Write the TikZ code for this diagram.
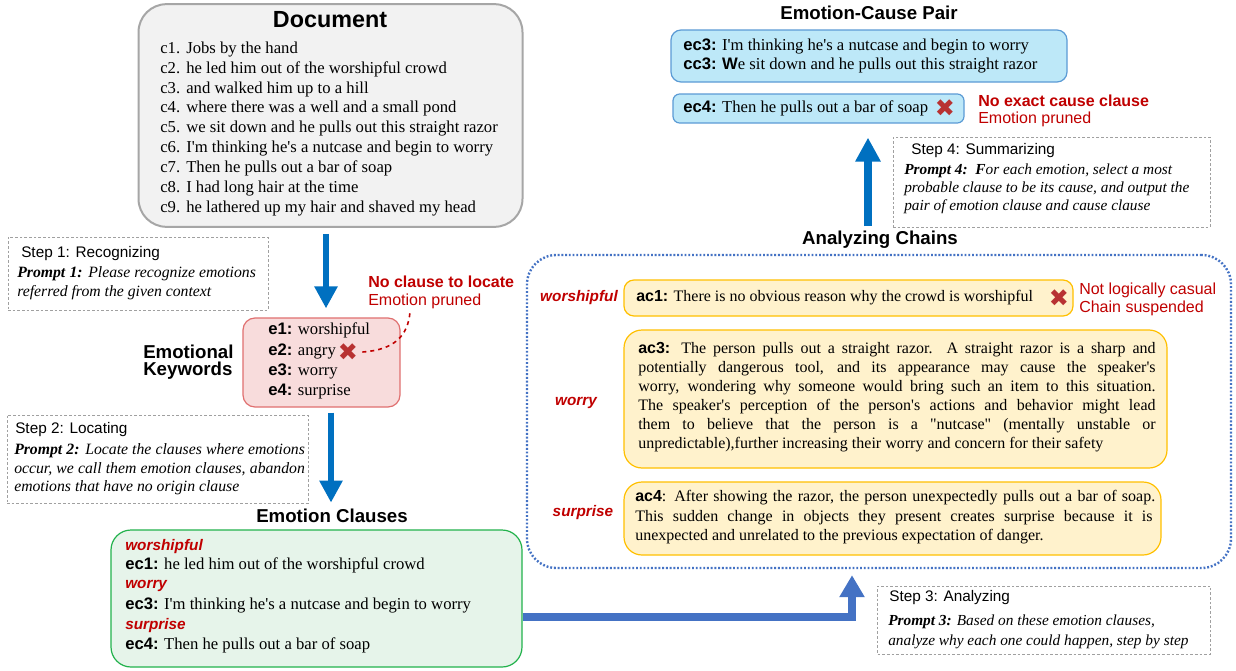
\documentclass[tikz,border=0pt]{standalone}
\usepackage{fontspec}
\setmainfont{Liberation Serif}[Ligatures=TeXOff]
\setsansfont{Liberation Sans}
\newfontfamily\symfont{DejaVu Sans}
\usetikzlibrary{arrows.meta,calc}
\definecolor{docfill}{HTML}{F2F2F2}
\definecolor{docdraw}{HTML}{A6A6A6}
\definecolor{ekfill}{HTML}{F8DCDC}
\definecolor{ekdraw}{HTML}{E07070}
\definecolor{ecfill}{HTML}{E6F4EA}
\definecolor{ecdraw}{HTML}{22B24C}
\definecolor{acfill}{HTML}{FFF2CC}
\definecolor{acdraw}{HTML}{FFC000}
\definecolor{cpfill}{HTML}{BDE8F8}
\definecolor{cpdraw}{HTML}{5B9BD5}
\definecolor{redlbl}{HTML}{C00000}
\definecolor{xred}{HTML}{B83232}
\definecolor{arrblue}{HTML}{0070C0}
\definecolor{elbblue}{HTML}{4472C4}
\definecolor{stepgray}{HTML}{A0A0A0}
\newcommand\lab[1]{{\sffamily\bfseries #1}}
\tikzset{
  box/.style={draw, inner sep=0pt, line width=0.9pt},
  stepbox/.style={draw=stepgray, dash pattern=on 2pt off 1.5pt, line width=0.7pt, inner sep=0pt},
  ser/.style={font=\fontsize{12.5}{15}\selectfont, inner sep=0pt, anchor=west, text height=8.5pt, text depth=2.75pt},
  acser/.style={font=\fontsize{12}{14}\selectfont, inner sep=0pt, anchor=west, text height=8.2pt, text depth=2.6pt},
  head/.style={font=\sffamily\bfseries\fontsize{14}{16}\selectfont, inner sep=0pt},
  steptitle/.style={font=\sffamily\fontsize{11.5}{13}\selectfont, inner sep=0pt, anchor=west},
  prompt/.style={font=\itshape\fontsize{11.8}{14}\selectfont, inner sep=0pt, anchor=west, text height=8pt, text depth=2.6pt},
  emo/.style={font=\sffamily\bfseries\itshape\fontsize{11.5}{13}\selectfont, text=redlbl, inner sep=0pt},
  redb/.style={font=\sffamily\bfseries\fontsize{12}{14}\selectfont, text=redlbl, inner sep=0pt, anchor=west},
  redr/.style={font=\sffamily\fontsize{12}{14}\selectfont, text=redlbl, inner sep=0pt, anchor=west},
  xmark/.style={font=\symfont\fontsize{18}{18}\selectfont, text=xred, inner sep=0pt},
  bluearrow/.style={draw=arrblue, line width=5pt, -{Triangle[width=16.5pt,length=16.5pt]}},
  elbarrow/.style={draw=elbblue, line width=6pt, -{Triangle[width=18pt,length=16.5pt]}},
  reddash/.style={draw=redlbl, line width=1.2pt, dash pattern=on 3pt off 3pt},
}
\begin{document}
\begin{tikzpicture}[x=0.75pt,y=-0.75pt]
\path[use as bounding box, fill=white] (0,0) rectangle (1236,671);

% ---------------- Document
\node[box, fill=docfill, draw=docdraw, line width=1.5pt, rounded corners=21pt, minimum width=288pt, minimum height=167pt] (doc) at (330.5,115.5) {};
\node[head, font=\sffamily\bfseries\fontsize{17.5}{20}\selectfont] (doct) at (330,20) {Document};
\foreach \t [count=\i] in {Jobs by the hand, he led him out of the worshipful crowd, and walked him up to a hill, where there was a well and a small pond, we sit down and he pulls out this straight razor, I'm thinking he's a nutcase and begin to worry, Then he pulls out a bar of soap, I had long hair at the time, he lathered up my hair and shaved my head}
  \node[ser] (d\i) at (160,{29.5+19.9*\i}) {\makebox[19.5pt][l]{c\i.}\t};

% ---------------- Step 1
\node[stepbox, minimum width=195pt, minimum height=54.75pt] (s1) at (138,273.5) {};
\node[steptitle] (s1t) at (21,254) {Step 1: Recognizing};
\node[prompt] (s1a) at (17,274) {\makebox[179pt][s]{\textbf{Prompt 1:} Please recognize emotions}};
\node[prompt] (s1b) at (17,293) {referred from the given context};

% ---------------- Emotional keywords
\node[box, fill=ekfill, draw=ekdraw, rounded corners=9pt, minimum width=117.75pt, minimum height=66.75pt] (ek) at (321.5,362.5) {};
\node[head, anchor=west] (ekl1) at (143,352) {Emotional};
\node[head, anchor=west] (ekl2) at (143,371) {Keywords};
\node[ser] (e1) at (268,331) {\lab{e1:} worshipful};
\node[ser] (e2) at (268,352) {\lab{e2:} angry};
\node[ser] (e3) at (268,372) {\lab{e3:} worry};
\node[ser] (e4) at (268,392) {\lab{e4:} surprise};
\node[xmark] (xang) at (348,352) {✖};
\node[redb] (nc1) at (368,282) {No clause to locate};
\node[redr] (nc2) at (368,301) {Emotion pruned};
\coordinate (cend) at (410,312);
\draw[reddash] ([xshift=3pt]xang.east) .. controls (394,350) and (408,336) .. (cend);

% ---------------- Step 2
\node[stepbox, minimum width=225.75pt, minimum height=66pt] (s2) at (157.5,459) {};
\node[steptitle] (s2t) at (15,430) {Step 2: Locating};
\node[prompt] (s2a) at (14,451) {\makebox[218pt][s]{\textbf{Prompt 2:} Locate the clauses where emotions}};
\node[prompt] (s2b) at (14,470) {\makebox[218pt][s]{occur, we call them emotion clauses, abandon}};
\node[prompt] (s2c) at (14,488) {emotions that have no origin clause};

% ---------------- arrows left column
\draw[bluearrow] ($(doc.south)+(-4.5,6)$) -- ($(ek.north)+(4.5,-9)$);
\draw[bluearrow] ($(ek.south)+(9.5,5)$) -- ($(ek.south)+(9.5,95)$);

% ---------------- Emotion clauses
\node[head] (ect) at (332,516) {Emotion Clauses};
\node[box, fill=ecfill, draw=ecdraw, rounded corners=15pt, minimum width=308.25pt, minimum height=102.75pt] (ec) at (316.5,598.5) {};
\node[emo, anchor=west] (ecl1) at (125,547) {worshipful};
\node[ser] (ecl2) at (125,566) {\lab{ec1:} he led him out of the worshipful crowd};
\node[emo, anchor=west] (ecl3) at (125,586) {worry};
\node[ser] (ecl4) at (125,606) {\lab{ec3:} I'm thinking he's a nutcase and begin to worry};
\node[emo, anchor=west] (ecl5) at (125,626) {surprise};
\node[ser] (ecl6) at (125,646) {\lab{ec4:} Then he pulls out a bar of soap};

% ---------------- Analyzing chains
\node[head] (cht) at (880,240) {Analyzing Chains};
\node[draw=elbblue, line width=1.8pt, dash pattern=on 1.4pt off 1.4pt, rounded corners=22pt, inner sep=0pt, minimum width=528pt, minimum height=234.75pt] (chains) at (879,411.5) {};

\node[emo] (w1) at (579,298) {worshipful};
\node[box, fill=acfill, draw=acdraw, rounded corners=7.5pt, minimum width=336.75pt, minimum height=27pt] (ac1) at (848.5,298) {};
\node[acser] (ac1t) at (636,298) {\lab{ac1:} There is no obvious reason why the crowd is worshipful};
\node[xmark] (x1) at (1059,298) {✖};
\node[redr] (nl1) at (1079,290) {Not logically casual};
\node[redr] (nl2) at (1079,308) {Chain suspended};

\node[emo] (w3) at (576,403) {worry};
\node[box, fill=acfill, draw=acdraw, rounded corners=13.5pt, minimum width=407.25pt, minimum height=103.5pt] (ac3) at (895.5,399) {};
\node[acser] (ac3l1) at (638,350) {\makebox[388pt][s]{\lab{ac3:} The person pulls out a straight razor. A straight razor is a sharp and}};
\node[acser] (ac3l2) at (638,369) {\makebox[388pt][s]{potentially dangerous tool, and its appearance may cause the speaker's}};
\node[acser] (ac3l3) at (638,388) {\makebox[388pt][s]{worry, wondering why someone would bring such an item to this situation.}};
\node[acser] (ac3l4) at (638,407) {\makebox[388pt][s]{The speaker's perception of the person's actions and behavior might lead}};
\node[acser] (ac3l5) at (638,426) {\makebox[388pt][s]{them to believe that the person is a "nutcase" (mentally unstable or}};
\node[acser] (ac3l6) at (638,445) {unpredictable),further increasing their worry and concern for their safety};

\node[emo] (w4) at (583,513) {surprise};
\node[box, fill=acfill, draw=acdraw, rounded corners=13.5pt, minimum width=402.75pt, minimum height=54.75pt] (ac4) at (892.5,518.5) {};
\node[acser] (ac4l1) at (635,498) {\makebox[390pt][s]{\lab{ac4}: After showing the razor, the person unexpectedly pulls out a bar of soap.}};
\node[acser] (ac4l2) at (635,518) {\makebox[388pt][s]{This sudden change in objects they present creates surprise because it is}};
\node[acser] (ac4l3) at (635,537) {unexpected and unrelated to the previous expectation of danger.};

% ---------------- Step 3 and elbow arrow
\node[stepbox, minimum width=249.75pt, minimum height=51pt] (s3) at (1044,620) {};
\node[steptitle] (s3t) at (889,598) {Step 3: Analyzing};
\node[prompt, font=\itshape\fontsize{11.5}{14}\selectfont] (s3a) at (888,622) {\textbf{Prompt 3:} Based on these emotion clauses,};
\node[prompt, font=\itshape\fontsize{11.5}{14}\selectfont] (s3b) at (888,642) {analyze why each one could happen, step by step};
\draw[elbarrow] ($(ec.east)+(0,18.5)$) -| ($(chains.south)+(-27,6)$);

% ---------------- Emotion-cause pair
\node[head] (ecpt) at (869,13) {Emotion-Cause Pair};
\node[box, fill=cpfill, draw=cpdraw, rounded corners=7.5pt, minimum width=297pt, minimum height=39pt] (ecp1) at (869,56) {};
\node[ser] (ecp1a) at (683,47) {\lab{ec3:} I'm thinking he's a nutcase and begin to worry};
\node[ser] (ecp1b) at (683,66) {\lab{cc3:} {\sffamily\bfseries W}e sit down and he pulls out this straight razor};
\node[box, fill=cpfill, draw=cpdraw, rounded corners=5pt, minimum width=218.25pt, minimum height=21.75pt] (ecp2) at (818.5,108.5) {};
\node[ser] (ecp2a) at (683,109) {\lab{ec4:} Then he pulls out a bar of soap};
\node[xmark] (x2) at (945,108) {✖};
\node[redb] (ne1) at (978,101) {No exact cause clause};
\node[redr] (ne2) at (978,119) {Emotion pruned};

% ---------------- Step 4 and arrow
\node[stepbox, minimum width=237.75pt, minimum height=67.5pt] (s4) at (1051.5,182) {};
\node[steptitle] (s4t) at (911,151) {Step 4: Summarizing};
\node[prompt, font=\itshape\fontsize{11.5}{14}\selectfont] (s4a) at (904,171) {\textbf{Prompt 4:\ \ F}or each emotion, select a most};
\node[prompt, font=\itshape\fontsize{11.5}{14}\selectfont] (s4b) at (904,189) {probable clause to be its cause, and output the};
\node[prompt, font=\itshape\fontsize{11.5}{14}\selectfont] (s4c) at (904,207) {pair of emotion clause and cause clause};
\draw[bluearrow, line width=5.5pt, -{Triangle[width=18pt,length=18pt]}] ($(cht.center)+(-12,-14)$) -- ($(ecp2.south)+(49.5,14)$);
\end{tikzpicture}
\end{document}
